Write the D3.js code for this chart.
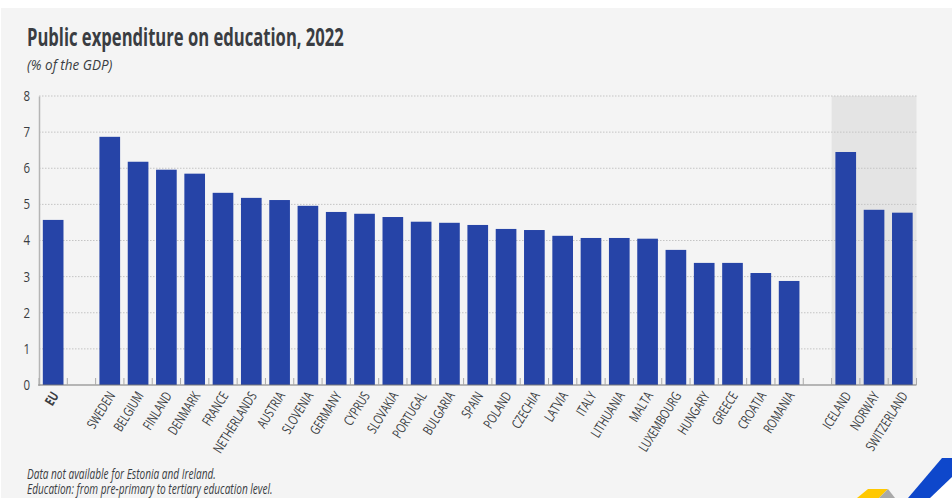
<!DOCTYPE html>
<html>
<head>
<meta charset="utf-8">
<script src="https://cdn.jsdelivr.net/npm/d3@7"></script>
<style>
  html, body { margin: 0; padding: 0; background: #fff; }
  text { font-family: "Open Sans", sans-serif; fill: #3a3d42; }
</style>
</head>
<body>
<svg id="chart" width="952" height="498"></svg>
<script>
const euCategories = ["EU"];
const memberCategories = ["SWEDEN", "BELGIUM", "FINLAND", "DENMARK", "FRANCE", "NETHERLANDS", "AUSTRIA", "SLOVENIA", "GERMANY", "CYPRUS", "SLOVAKIA", "PORTUGAL", "BULGARIA", "SPAIN", "POLAND", "CZECHIA", "LATVIA", "ITALY", "LITHUANIA", "MALTA", "LUXEMBOURG", "HUNGARY", "GREECE", "CROATIA", "ROMANIA"];
const efaCategories = ["ICELAND", "NORWAY", "SWITZERLAND"];
const euValues = [4.57];
const memberValues = [6.87, 6.18, 5.96, 5.85, 5.32, 5.18, 5.12, 4.96, 4.79, 4.74, 4.65, 4.52, 4.49, 4.43, 4.32, 4.29, 4.13, 4.07, 4.07, 4.05, 3.74, 3.38, 3.38, 3.10, 2.88];
const efaValues = [6.45, 4.85, 4.77];
const yTicks = [0, 1, 2, 3, 4, 5, 6, 7, 8];
const titleText = "Public expenditure on education, 2022";
const subtitleText = "(% of the GDP)";
const notes = ["Data not available for Estonia and Ireland.", "Education: from pre-primary to tertiary education level."];

const svg = d3.select("#chart");

// grey panel behind everything, white strip stays on top
svg.append("rect").attr("x", 1).attr("y", 8).attr("width", 951).attr("height", 490).attr("fill", "#f4f4f4");

const categories = [...euCategories, "gap1", ...memberCategories, "gap2", ...efaCategories];
const rows = [
  ...euCategories.map((c, i) => ({ name: c, value: euValues[i] })),
  ...memberCategories.map((c, i) => ({ name: c, value: memberValues[i] })),
  ...efaCategories.map((c, i) => ({ name: c, value: efaValues[i] }))
];

const x = d3.scaleBand().domain(categories).range([39, 916.5]).paddingInner(0.27).paddingOuter(0.135);
const y = d3.scaleLinear().domain([0, 8]).range([385, 96]);

// no condensed font is installed, so squeeze the text horizontally
function condensedAt(px, py, sx) {
  return `translate(${px},${py}) scale(${sx},1)`;
}

// shaded block for the non-EU countries
const shadeX = x("gap2") + x.step() * 0.865;
svg.append("rect")
  .attr("x", shadeX)
  .attr("y", y(8))
  .attr("width", 916.5 - shadeX)
  .attr("height", y(0) - y(8))
  .attr("fill", "#e4e4e4");

// gridlines
svg.append("g")
  .selectAll("line")
  .data(yTicks.filter(d => d > 0))
  .join("line")
  .attr("x1", 39)
  .attr("x2", 916.5)
  .attr("y1", d => y(d))
  .attr("y2", d => y(d))
  .attr("stroke", "#c4c4c4")
  .attr("stroke-width", 1)
  .attr("stroke-dasharray", "1.5 1.5");

// bars
svg.append("g")
  .selectAll("rect")
  .data(rows)
  .join("rect")
  .attr("x", d => x(d.name))
  .attr("y", d => y(d.value))
  .attr("width", x.bandwidth())
  .attr("height", d => y(0) - y(d.value))
  .attr("fill", "#2644a7");

// y axis
const yAxis = svg.append("g")
  .attr("transform", "translate(39,0)")
  .call(d3.axisLeft(y).tickValues(yTicks).tickSize(0).tickFormat(d3.format("d")));
yAxis.select(".domain").attr("stroke", "#b5b5b5").attr("stroke-width", 1.5);
yAxis.selectAll("text")
  .attr("x", null)
  .attr("transform", condensedAt(-9, 0, 0.82))
  .attr("font-size", 14)
  .attr("font-family", null);

// x axis baseline with ticks between bands
const xAxis = svg.append("g").attr("transform", "translate(0,385)");
xAxis.append("line").attr("x1", 38).attr("x2", 916.5).attr("stroke", "#777").attr("stroke-width", 1);
xAxis.selectAll("line.sep")
  .data(d3.range(categories.length + 1))
  .join("line")
  .attr("class", "sep")
  .attr("x1", i => x.range()[0] + i * x.step())
  .attr("x2", i => x.range()[0] + i * x.step())
  .attr("y1", -7)
  .attr("y2", 0)
  .attr("stroke", "#aaa");

// rotated category labels, end anchored under each bar
svg.append("g")
  .selectAll("text")
  .data(rows)
  .join("text")
  .attr("transform", d => `translate(${x(d.name) + x.bandwidth() / 2 + 6},395.5) rotate(-58) scale(0.74,1)`)
  .attr("text-anchor", "end")
  .attr("font-size", 13.5)
  .attr("font-weight", d => d.name === "EU" ? 700 : 400)
  .text(d => d.name);

svg.append("text").attr("transform", condensedAt(27, 46, 0.665)).attr("font-size", 25).attr("font-weight", 700).attr("fill", "#2b2e33").text(titleText);
svg.append("text").attr("transform", condensedAt(27, 70, 0.9)).attr("font-size", 15).attr("font-style", "italic").text(subtitleText);

// both note lines live in one text element
svg.append("text")
  .attr("transform", condensedAt(27, 479, 0.72))
  .attr("font-size", 14)
  .attr("font-style", "italic")
  .selectAll("tspan")
  .data(notes)
  .join("tspan")
  .attr("x", 0)
  .attr("dy", (d, i) => i === 0 ? 0 : 15)
  .text(d => d);

// corner logo
svg.append("path").attr("d", "M857 498 L868 489 L888 489 L879 498 Z").attr("fill", "#ffc800");
svg.append("path").attr("d", "M879 498 L888 489 L895 498 Z").attr("fill", "#a9a9a9");
svg.append("path").attr("d", "M930 498 L952 477 L952 498 Z").attr("fill", "#ffffff");
svg.append("path").attr("d", "M908 498 L942 458 L952 458 L952 477 L930 498 Z").attr("fill", "#0e47cb");
</script>
</body>
</html>
